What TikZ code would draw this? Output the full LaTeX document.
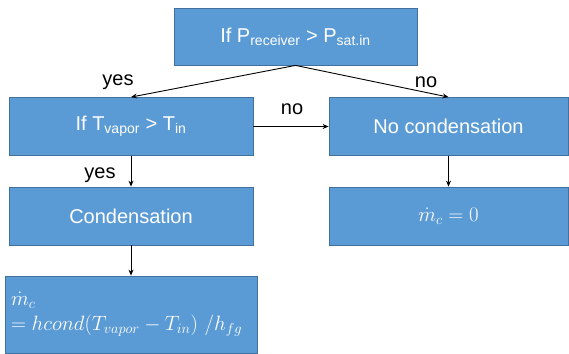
\documentclass[tikz,border=0pt]{standalone}
\usepackage{fontspec}
\setmainfont{Liberation Sans}
\usetikzlibrary{arrows.meta}
\definecolor{boxblue}{RGB}{91,155,213}
\definecolor{boxedge}{RGB}{65,113,156}

\begin{document}
\begin{tikzpicture}[x=1pt,y=-1pt,
    box/.style={draw=boxedge,fill=boxblue,text=white,line width=0.8pt,inner sep=0pt,
      minimum height=58pt,font=\fontsize{20}{25}\selectfont},
    lbl/.style={font=\fontsize{20}{24}\selectfont},
    arr/.style={-{Stealth[length=6pt,width=5pt]},line width=0.9pt}]
  \useasboundingbox (0,0) rectangle (569,353);
  \node[box,minimum width=243pt,minimum height=57pt] (recv) at (295.5,36.5)
    {If P\textsubscript{receiver} > P\textsubscript{sat.in}};
  \node[box,minimum width=244pt] (vapor) at (131,126.5) {If T\textsubscript{vapor} > T\textsubscript{in}};
  \node[box,minimum width=239pt] (nocond) at (448.5,126.5) {No condensation};
  \node[box,minimum width=244pt] (cond) at (131,216) {Condensation};
  \node[box,minimum width=239pt] (zero) at (448.5,216) {$\dot{m}_c = 0$};
  \node[box,minimum width=252pt,minimum height=77pt,text width=240pt,align=left] (rate) at (131,314.5)
    {$\dot{m}_c$\\$= hcond(T_{vapor}-T_{in})\ /h_{fg}$};

  \draw[arr] (recv.south) -- (vapor.north);
  \draw[arr] (recv.south) -- (nocond.north);
  \draw[arr] (vapor.east) -- (nocond.west);
  \draw[arr] (vapor.south) -- (cond.north);
  \draw[arr] (nocond.south) -- (zero.north);
  \draw[arr] (cond.south) -- (rate.north);

  \node[lbl] (yes1) at (118,82) {yes};
  \node[lbl] (no1) at (426,82) {no};
  \node[lbl] (no2) at (292,109) {no};
  \node[lbl] (yes2) at (100,175) {yes};
\end{tikzpicture}
\end{document}
